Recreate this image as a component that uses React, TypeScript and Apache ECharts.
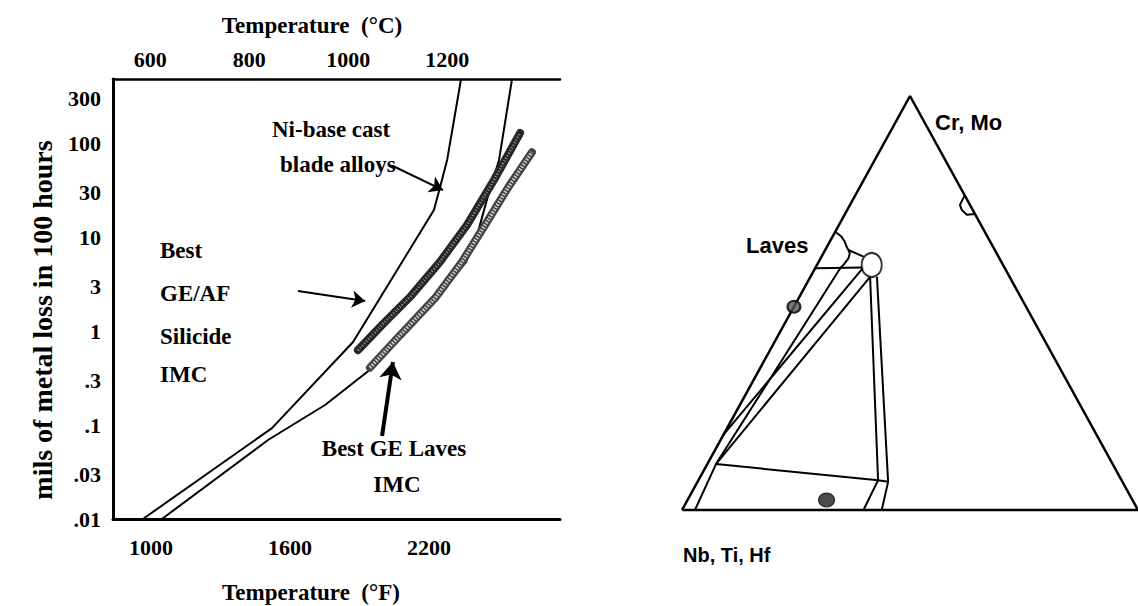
import React, { useEffect, useRef } from "react";
import * as echarts from "echarts";

// ---------- Left chart: metal loss (mils in 100 hours) vs temperature ----------
const fahrenheitTicks = [1000, 1600, 2200];
const celsiusTicks = [600, 800, 1000, 1200];
const lossTicks = [0.01, 0.03, 0.1, 0.3, 1, 3, 10, 30, 100, 300];
const lossTickLabels = [".01", ".03", ".1", ".3", "1", "3", "10", "30", "100", "300"];

// Ni-base cast blade alloys band, [°F, mils]
const niBaseLower = [[965, 0.01], [1522, 0.093], [1872, 0.77], [2221, 19.6], [2247, 34], [2278, 67], [2338, 488]];
const niBaseUpper = [[2558, 488], [2502, 67], [2459, 30.5], [2411, 11.4], [2360, 5.5], [2234, 2.26], [2083, 0.91], [1945, 0.39], [1751, 0.164], [1505, 0.0695], [1047, 0.01]];
// Best GE/AF silicide IMC and best GE Laves IMC bands, [°F, mils]
const silicideIMC = [[1893, 0.63], [2010, 1.26], [2122, 2.38], [2247, 5.5], [2364, 13.6], [2480, 40.9], [2593, 130]];
const lavesIMC = [[1945, 0.41], [2075, 0.91], [2226, 2.26], [2342, 5.5], [2442, 13.6], [2541, 34], [2644, 81]];
// annotation arrows, [°F, mils] from -> to
const niArrow = [[2044, 57.7], [2260, 32]];
const silicideArrow = [[1634, 2.69], [1924, 2.1]];
const lavesArrow = [[1997, 0.0766], [2044, 0.471]];

// ---------- Right chart: ternary diagram, points as [Cr,Mo %, third %] ----------
const triangle = [[0, 0], [100, 0], [0, 100], [0, 0]];
const lavesBoundary = [[67.2, 0], [66.0, 2.0], [64.8, 3.3], [63.6, 4.3], [62.8, 5.1], [62.0, 5.8], [60.8, 6.1], [59.2, 5.8], [58.4, 5.5]];
const lavesTie = [[58.4, 0], [58.6, 10.5]];
const lavesToBlob = [[62.8, 5.1], [61.2, 9.2]];
const blobCenter = [[59.2, 12.0]];
const tieA = [[58.4, 5.5], [11.1, 1.9], [0, 2.85]];
const tieB = [[58.6, 10.5], [18.2, 0]];
const tieC = [[56.3, 13.1], [11.1, 1.9], [7.2, 39.4]];
const verticalInner = [[56.3, 13.1], [7.2, 39.4], [0, 39.8]];
const verticalOuter = [[56.3, 14.6], [6.8, 41.8], [0, 43.8]];
const stripTop = [[7.2, 39.4], [6.8, 41.8]];
const rightBump = [[76.0, 24.0], [73.7, 24.1], [72.5, 25.1], [71.3, 26.8], [71.5, 28.5]];
const ringDot = [[49.1, 0]];
const solidDot = [[2.4, 30.5]];

const SERIF = '"Liberation Serif", "Times New Roman", serif';
const SANS = '"Liberation Sans", Arial, sans-serif';

const toLog = (pts: number[][]) => pts.map(([f, m]) => [f, Math.log10(m)]);
const toTern = (pts: number[][]) => pts.map(([cr, x]) => [x / 100 + cr / 200, cr / 100]);

export default function App() {
  const ref = useRef<HTMLDivElement>(null);
  useEffect(() => {
    document.body.style.margin = "0";
    const chart = echarts.init(ref.current!, undefined, { renderer: "svg" });
    const tickLabel = {
      fontFamily: SERIF,
      fontWeight: "bold" as const,
      fontSize: 22,
      color: "#000",
    };
    const line = (data: number[][], width = 2, extra: any = {}) => ({
      type: "line",
      xAxisIndex: 0,
      yAxisIndex: 0,
      data: toLog(data),
      symbol: "none",
      clip: false,
      silent: true,
      lineStyle: { color: "#000", width, ...extra },
    });
    const tern = (data: number[][], width = 2) => ({
      type: "line",
      xAxisIndex: 2,
      yAxisIndex: 1,
      data: toTern(data),
      symbol: "none",
      clip: false,
      silent: true,
      lineStyle: { color: "#000", width },
    });
    const txt = (text: string, x: number, y: number, align = "left", size = 23, family = SERIF, rotation = 0) => ({
      type: "text",
      x,
      y,
      rotation,
      style: { text, font: `bold ${size}px ${family}`, fill: "#000", align, verticalAlign: "middle" },
    });
    const option: any = {
      animation: false,
      backgroundColor: "#fff",
      grid: [
        { left: 113, top: 79, width: 447, height: 440 },
        { left: 682, top: 96, width: 456, height: 414 },
      ],
      xAxis: [
        {
          gridIndex: 0,
          type: "value",
          min: 836,
          max: 2765,
          position: "bottom",
          axisLine: { show: true, onZero: false, lineStyle: { color: "#000", width: 3 } },
          axisTick: { show: false },
          splitLine: { show: false },
          axisLabel: { ...tickLabel, customValues: fahrenheitTicks, margin: 17, formatter: (v: number) => String(v) },
        },
        {
          gridIndex: 0,
          type: "value",
          min: 525,
          max: 1428,
          position: "top",
          axisLine: { show: true, onZero: false, lineStyle: { color: "#000", width: 2.5 } },
          axisTick: { show: false },
          splitLine: { show: false },
          axisLabel: { ...tickLabel, customValues: celsiusTicks, margin: 9, formatter: (v: number) => String(v) },
        },
        { gridIndex: 1, type: "value", min: 0, max: 1, show: false },
      ],
      yAxis: [
        {
          gridIndex: 0,
          type: "value",
          min: -2,
          max: Math.log10(488),
          axisLine: { show: true, onZero: false, lineStyle: { color: "#000", width: 3 } },
          axisTick: { show: false },
          splitLine: { show: false },
          axisLabel: {
            ...tickLabel,
            margin: 12,
            customValues: lossTicks.map((t) => Math.log10(t)),
            formatter: (v: number) => {
              const i = lossTicks.findIndex((t) => Math.abs(Math.log10(t) - v) < 1e-6);
              return i >= 0 ? lossTickLabels[i] : "";
            },
          },
        },
        { gridIndex: 1, type: "value", min: 0, max: 1, show: false },
      ],
      series: [
        line(niBaseLower),
        line(niBaseUpper),
        line(silicideIMC, 8, { color: "#262626", cap: "round" }),
        line(silicideIMC, 2.5, { color: "#9a9a9a", type: [1, 2] }),
        line(lavesIMC, 8, { color: "#444", cap: "round" }),
        line(lavesIMC, 3.5, { color: "#d0d0d0", type: [1.5, 1.5] }),
        {
          type: "lines",
          coordinateSystem: "cartesian2d",
          xAxisIndex: 0,
          yAxisIndex: 0,
          symbol: ["none", "arrow"],
          symbolSize: 13,
          silent: true,
          lineStyle: { color: "#000", width: 2, opacity: 1 },
          data: [{ coords: toLog(niArrow) }, { coords: toLog(silicideArrow) }],
        },
        {
          type: "lines",
          coordinateSystem: "cartesian2d",
          xAxisIndex: 0,
          yAxisIndex: 0,
          symbol: ["none", "arrow"],
          symbolSize: 17,
          silent: true,
          lineStyle: { color: "#000", width: 4, opacity: 1 },
          data: [{ coords: toLog(lavesArrow) }],
        },
        // ternary
        tern(triangle, 2.5),
        tern(lavesBoundary),
        tern(lavesTie),
        tern(lavesToBlob),
        tern(tieA),
        tern(tieB),
        tern(tieC),
        tern(verticalInner),
        tern(verticalOuter),
        tern(stripTop),
        tern(rightBump),
        {
          type: "scatter",
          xAxisIndex: 2,
          yAxisIndex: 1,
          data: toTern(blobCenter),
          symbol: "circle",
          symbolSize: [20, 24],
          silent: true,
          itemStyle: { color: "#fff", borderColor: "#000", borderWidth: 2 },
          z: 5,
        },
        {
          type: "scatter",
          xAxisIndex: 2,
          yAxisIndex: 1,
          data: toTern(ringDot),
          symbol: "circle",
          symbolSize: [13, 12],
          silent: true,
          itemStyle: { color: "#555", borderColor: "#000", borderWidth: 2 },
          z: 5,
        },
        {
          type: "scatter",
          xAxisIndex: 2,
          yAxisIndex: 1,
          data: toTern(solidDot),
          symbol: "circle",
          symbolSize: [16, 14],
          silent: true,
          itemStyle: { color: "#1e1e1e", borderColor: "#000", borderWidth: 1 },
          z: 5,
        },
      ],
      graphic: [
        txt("Temperature  (°C)", 312, 25, "center"),
        txt("Temperature  (°F)", 311, 592, "center"),
        txt("mils of metal loss in 100 hours", 42, 320, "center", 28, SERIF, Math.PI / 2),
        txt("Ni-base cast", 272, 129),
        txt("blade alloys", 280, 164),
        txt("Best", 160, 250),
        txt("GE/AF", 160, 293),
        txt("Silicide", 160, 336),
        txt("IMC", 160, 374),
        txt("Best GE Laves", 394, 448, "center"),
        txt("IMC", 397, 484, "center"),
        txt("Cr, Mo", 935, 122, "left", 22, SANS),
        txt("Laves", 746, 245, "left", 22, SANS),
        txt("Nb, Ti, Hf", 683, 555, "left", 20, SANS),
      ],
    };
    chart.setOption(option);
    return () => chart.dispose();
  }, []);
  return (
    <div
      ref={ref}
      style={{ position: "absolute", left: 0, top: 0, width: 1138, height: 606, background: "#fff" }}
    />
  );
}
